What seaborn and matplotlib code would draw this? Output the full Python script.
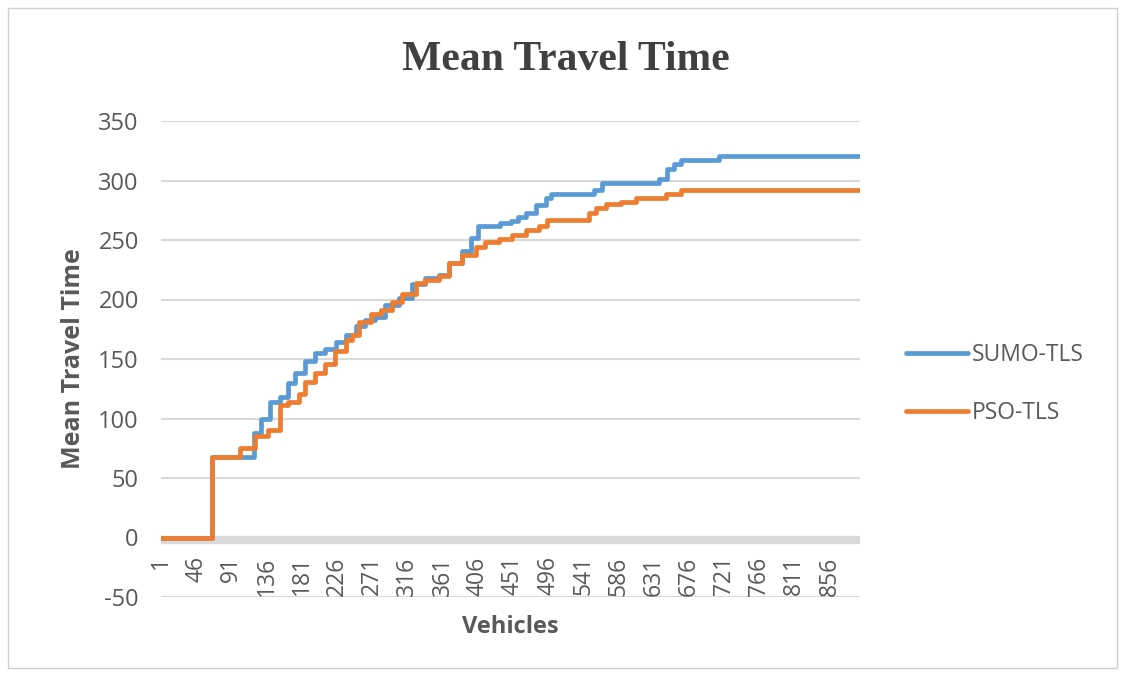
import numpy as np
import pandas as pd
import matplotlib
matplotlib.use("Agg")
import matplotlib.pyplot as plt
import seaborn as sns
from matplotlib.patches import Rectangle
from matplotlib.lines import Line2D

# ---- data (step breakpoints: vehicle index where a new mean value starts) ----
n_vehicles = 895

sumo_x = [1, 66, 120, 129, 141, 153, 164, 173, 185, 198, 211, 225, 237, 250, 262,
          275, 288, 305, 322, 339, 356, 369, 386, 397, 407, 435, 448, 458, 468,
          481, 493, 500, 555, 565, 638, 648, 657, 666, 715]
sumo_y = [0, 68, 88, 100, 114, 118, 130, 138, 148, 155, 158, 164, 170, 178, 183,
          185, 195, 201, 213, 218, 221, 231, 241, 252, 262, 264, 266, 269, 273,
          279, 285, 289, 292, 298, 301, 310, 314, 317, 321]

pso_x = [1, 66, 102, 121, 138, 153, 164, 177, 185, 198, 211, 224, 237, 245, 254,
         270, 283, 296, 309, 327, 339, 356, 369, 386, 404, 416, 433, 450, 468,
         484, 495, 548, 557, 570, 589, 609, 647, 666]
pso_y = [0, 68, 75, 85, 90, 111, 114, 121, 131, 138, 146, 157, 166, 170, 181,
         188, 191, 198, 205, 214, 216, 220, 231, 237, 244, 248, 251, 254, 258,
         262, 267, 273, 277, 280, 282, 285, 289, 292]

series_names = ["SUMO-TLS", "PSO-TLS"]
x_ticks = list(range(1, 857, 45))
y_ticks = list(range(-50, 351, 50))

# ---- build long table ----
rows = []
for name, xs, ys in [(series_names[0], sumo_x, sumo_y), (series_names[1], pso_x, pso_y)]:
    xs2 = list(xs) + [n_vehicles]
    ys2 = list(ys) + [ys[-1]]
    for xv, yv in zip(xs2, ys2):
        rows.append({"Vehicles": xv, "Mean Travel Time": yv, "Series": name})
df = pd.DataFrame(rows)

sns.set_theme(style="white")
plt.rcParams["font.family"] = ["Open Sans", "DejaVu Sans"]

W, H = 1123, 675
fig = plt.figure(figsize=(W / 100, H / 100), dpi=100)
ax = fig.add_axes([161 / W, 1 - 597 / H, (860 - 161) / W, (597 - 121) / H])

grid_c = "#d9d9d9"
text_c = "#595959"
palette = {"SUMO-TLS": "#5B9BD5", "PSO-TLS": "#ED7D31"}

for yt in y_ticks:
    if yt != 0:
        ax.axhline(yt, color=grid_c, lw=1.5, zorder=0)
ax.axhline(-2.5, color=grid_c, lw=6, zorder=0.5)

sns.lineplot(data=df, x="Vehicles", y="Mean Travel Time", hue="Series",
             hue_order=series_names, palette=palette, estimator=None,
             drawstyle="steps-post", linewidth=3.4, ax=ax, legend=False, zorder=3)

ax.set_xlim(1, n_vehicles)
ax.set_ylim(-50, 350)
ax.spines["bottom"].set_position(("data", 0))
ax.set_yticks(y_ticks)
ax.set_yticklabels([str(v) for v in y_ticks], fontsize=17, color=text_c)
ax.set_xticks(x_ticks)
ax.set_xticklabels([str(v) for v in x_ticks], rotation=90, fontsize=16.5, color=text_c)
ax.tick_params(axis="y", length=0, pad=16)
ax.tick_params(axis="x", length=0, pad=13.5)
for s in ax.spines.values():
    s.set_visible(False)

ax.set_xlabel("Vehicles", fontsize=17, fontweight="bold", color=text_c, labelpad=14)
ax.set_ylabel("Mean Travel Time", fontsize=18, fontweight="bold", color=text_c, labelpad=9)

fig.text(566 / W, 1 - 60 / H, "Mean Travel Time", ha="center", va="center",
         fontsize=30, fontweight="bold", color="#404040", family="Liberation Serif")

handles = [Line2D([], [], color=palette[n], lw=3.4) for n in series_names]
fig.legend(handles, series_names, loc="center left",
           bbox_to_anchor=(895 / W, 1 - 384 / H), frameon=False,
           fontsize=16.5, labelcolor=text_c, handlelength=2.7, handletextpad=0.15,
           labelspacing=1.5, borderpad=0)

fig.add_artist(Rectangle((8 / W, 1 - 668 / H), (1117 - 8) / W, (668 - 8) / H,
                         transform=fig.transFigure, fill=False, edgecolor="#d0d0d0", lw=1))

fig.savefig("out.png", dpi=100, facecolor="white")
